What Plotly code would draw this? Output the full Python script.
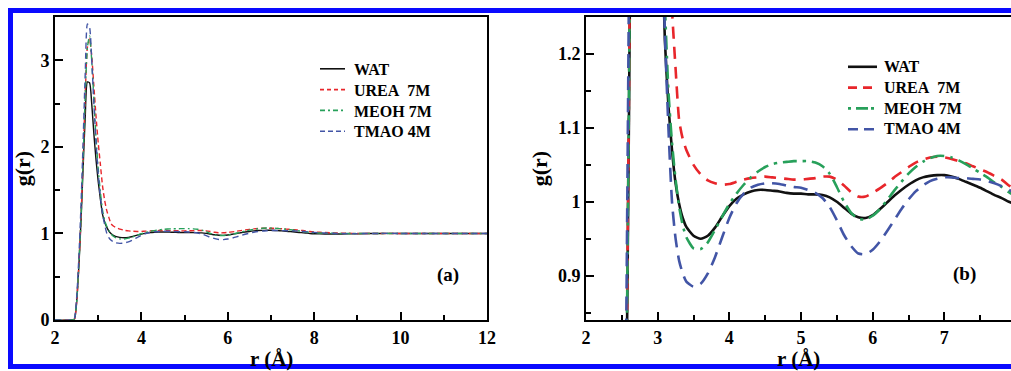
import plotly.graph_objects as go

# ---------------- data ----------------
r = [2.0, 2.4,
     2.45, 2.5, 2.55, 2.6, 2.65, 2.7, 2.75, 2.8, 2.85, 2.9, 2.95, 3.0, 3.05, 3.1, 3.15, 3.2, 3.25, 3.3, 3.35, 3.4,
     3.5, 3.6, 3.7, 3.8, 3.9, 4.0, 4.1, 4.2, 4.3, 4.4, 4.5, 4.6, 4.7, 4.8, 4.9, 5.0, 5.1, 5.2, 5.3, 5.4, 5.5,
     5.6, 5.7, 5.8, 5.9, 6.0, 6.1, 6.2, 6.3, 6.4, 6.5, 6.6, 6.7, 6.8, 6.9, 7.0, 7.1, 7.2, 7.3, 7.4, 7.5, 7.6,
     7.7, 7.8, 7.9, 8.0,
     8.25, 8.5, 8.75, 9.0, 9.5, 10.0, 10.5, 11.0, 11.5, 12.0]

g_wat = [0, 0,
         0.01, 0.2, 0.6, 1.12, 1.75, 2.35, 2.75, 2.74, 2.5, 2.15, 1.85, 1.6, 1.4, 1.22, 1.13, 1.07, 1.025, 0.997, 0.978, 0.966,
         0.954, 0.95, 0.954, 0.965, 0.98, 0.994, 1.004, 1.01, 1.014, 1.016, 1.016, 1.015, 1.014, 1.012, 1.011, 1.011, 1.01, 1.01, 1.009, 1.006, 1.0,
         0.992, 0.984, 0.979, 0.978, 0.982, 0.99, 0.999, 1.008, 1.016, 1.023, 1.029, 1.033, 1.035, 1.036, 1.036, 1.034, 1.031, 1.027, 1.023, 1.019, 1.014,
         1.009, 1.005, 1.0, 0.997,
         0.994, 0.993, 0.995, 0.997, 1.0, 1.0, 1.0, 1.0, 1.0, 1.0]

g_urea = [0, 0,
          0.01, 0.2, 0.62, 1.15, 1.85, 2.6, 3.15, 3.25, 3.05, 2.7, 2.35, 2.05, 1.8, 1.55, 1.38, 1.26, 1.18, 1.11, 1.085, 1.07,
          1.05, 1.037, 1.029, 1.025, 1.023, 1.024, 1.027, 1.03, 1.032, 1.033, 1.034, 1.033, 1.032, 1.031, 1.03, 1.03, 1.031, 1.032, 1.034, 1.034, 1.03,
          1.022, 1.013, 1.007, 1.007, 1.012, 1.018, 1.025, 1.033, 1.04, 1.047, 1.053, 1.057, 1.06, 1.061, 1.06, 1.058, 1.055, 1.052, 1.048, 1.044, 1.04,
          1.035, 1.03, 1.022, 1.017,
          1.01, 1.005, 1.002, 1.0, 1.0, 1.0, 1.0, 1.0, 1.0, 1.0]

g_meoh = [0, 0,
          0.01, 0.2, 0.62, 1.15, 1.85, 2.6, 3.15, 3.28, 3.0, 2.55, 2.1, 1.75, 1.48, 1.27, 1.15, 1.08, 1.03, 0.993, 0.968, 0.952,
          0.937, 0.936, 0.945, 0.962, 0.98, 0.997, 1.011, 1.023, 1.033, 1.041, 1.047, 1.051, 1.053, 1.054, 1.055, 1.055, 1.055, 1.053, 1.048, 1.038, 1.02,
          1.0, 0.985, 0.977, 0.976, 0.981, 0.99, 1.002, 1.015, 1.027, 1.038, 1.047, 1.054, 1.059, 1.062, 1.062, 1.06, 1.056, 1.051, 1.045, 1.039, 1.033,
          1.026, 1.02, 1.013, 1.008,
          1.003, 1.0, 1.0, 1.0, 1.0, 1.0, 1.0, 1.0, 1.0, 1.0]

g_tmao = [0, 0,
          0.02, 0.25, 0.7, 1.3, 2.05, 2.85, 3.42, 3.38, 3.0, 2.5, 2.05, 1.7, 1.42, 1.23, 1.1, 1.0, 0.95, 0.92, 0.903, 0.892,
          0.885, 0.889, 0.903, 0.925, 0.952, 0.978, 0.998, 1.011, 1.019, 1.023, 1.025, 1.025, 1.024, 1.022, 1.02, 1.019, 1.016, 1.012, 1.005, 0.993, 0.975,
          0.955, 0.94, 0.93, 0.929, 0.935, 0.946, 0.96, 0.975, 0.99, 1.003, 1.014, 1.022, 1.028, 1.031, 1.033, 1.033, 1.032, 1.032, 1.031, 1.03, 1.028,
          1.025, 1.021, 1.016, 1.012,
          1.005, 1.0, 0.998, 0.998, 1.0, 1.0, 1.0, 1.0, 1.0, 1.0]

names = ["WAT", "UREA\u00a0\u00a07M", "MEOH 7M", "TMAO 4M"]
series = [g_wat, g_urea, g_meoh, g_tmao]
for s in series:
    assert len(s) == len(r), len(s)

colors = ["#111111", "#e8262b", "#27a05a", "#4255a6"]
dash_a = ["solid", "5px,3px", "6px,3px,2px,3px", "6px,4px"]
dash_b = ["solid", "12px,8px", "14px,6px,3px,6px", "14px,8px"]
width_a = 1.4
width_b = 2.6

W, H = 1011, 371
def px(x):
    return x / W
def py(y):
    return 1 - y / H

FONT = "Liberation Serif, Times New Roman, serif"

fig = go.Figure()
for name, s, c, da, db in zip(names, series, colors, dash_a, dash_b):
    fig.add_trace(go.Scatter(x=r, y=s, mode="lines", name=name, showlegend=False,
                             line=dict(color=c, width=width_a, dash=da, shape="spline", smoothing=0.6),
                             xaxis="x", yaxis="y"))
    fig.add_trace(go.Scatter(x=r, y=s, mode="lines", name=name, showlegend=False,
                             line=dict(color=c, width=width_b, dash=db, shape="spline", smoothing=0.6),
                             xaxis="x2", yaxis="y2"))

tickfont = dict(family=FONT, size=18, color="black")
titlefont = dict(family=FONT, size=22, color="black")
common = dict(showline=True, linecolor="black", linewidth=2, mirror=True, ticks="inside",
              ticklen=8, tickwidth=1.5, tickcolor="black", showgrid=False, zeroline=False,
              tickfont=tickfont, automargin=False)

XA = [px(55), px(487)]
XB = [px(586), 1.0]

fig.update_layout(
    width=W, height=H, margin=dict(l=0, r=0, t=0, b=0),
    paper_bgcolor="white", plot_bgcolor="white",
    xaxis=dict(domain=XA, range=[2, 12], dtick=2, tick0=2,
               minor=dict(dtick=1, ticks="inside", ticklen=5, tickcolor="black", tickwidth=1.5),
               anchor="y", **common),
    yaxis=dict(domain=[py(320), py(17)], range=[0, 3.5], dtick=1, tick0=0,
               minor=dict(dtick=0.5, ticks="inside", ticklen=5, tickcolor="black", tickwidth=1.5),
               title=dict(text="<b>g(r)</b>", font=titlefont, standoff=4), anchor="x", **common),
    xaxis2=dict(domain=XB, range=[2, 7.93], dtick=1, tick0=2,
                minor=dict(dtick=0.5, ticks="inside", ticklen=5, tickcolor="black", tickwidth=1.5),
                anchor="y2", **common),
    yaxis2=dict(domain=[py(320), py(17)], range=[0.84, 1.25], dtick=0.1, tick0=0.9,
                minor=dict(dtick=0.05, ticks="inside", ticklen=5, tickcolor="black", tickwidth=1.5),
                title=dict(text="<b>g(r)</b>", font=titlefont, standoff=4), anchor="x2", **common),
)
fig.update_xaxes(tickprefix="<b>", ticksuffix="</b>")
fig.update_yaxes(tickprefix="<b>", ticksuffix="</b>")

shapes = []
annotations = []

# x-axis titles (placed as text under each panel)
for dom in (XA, XB):
    annotations.append(dict(xref="paper", yref="paper", x=(dom[0] + dom[1]) / 2, y=py(372),
                            xanchor="center", yanchor="bottom", showarrow=False, borderpad=0,
                            text="<b>r (Å)</b>", font=dict(family=FONT, size=21, color="black")))

# manual legends: one multi-line text block per panel, with line samples beside each row
LEG_FS = 16
ROW = LEG_FS * 1.3
leg_a = dict(x0=320, x1=345, xt=353, ymid=100, dash=["solid", "4px,3px", "5px,3px,2px,3px", "5px,3px"], w=1.6)
leg_b = dict(x0=848, x1=877, xt=883, ymid=98, dash=["solid", "9px,6px", "3px,5px,12px,3px", "10px,6px"], w=2.6)
for leg in (leg_a, leg_b):
    for i, (c, d) in enumerate(zip(colors, leg["dash"])):
        yy = leg["ymid"] + (i - 1.5) * ROW
        shapes.append(dict(type="line", xref="paper", yref="paper", x0=px(leg["x0"]), x1=px(leg["x1"]),
                           y0=py(yy), y1=py(yy), line=dict(color=c, width=leg["w"], dash=d)))
    annotations.append(dict(xref="paper", yref="paper", x=px(leg["xt"]), y=py(leg["ymid"]), xanchor="left",
                            yanchor="middle", align="left", showarrow=False, borderpad=0,
                            text="<br>".join("<b>" + n + "</b>" for n in names),
                            font=dict(family=FONT, size=LEG_FS, color="black")))

annotations.append(dict(xref="paper", yref="paper", x=px(448), y=py(288), showarrow=False,
                        text="<b>(a)</b>", font=dict(family=FONT, size=19, color="black")))
annotations.append(dict(xref="paper", yref="paper", x=px(978), y=py(287), showarrow=False,
                        text="<b>(b)</b>", font=dict(family=FONT, size=19, color="black")))

# blue outer frame
shapes.append(dict(type="rect", xref="paper", yref="paper", x0=px(10.5), x1=1.02, y0=py(366.5), y1=py(10.5),
                   line=dict(color="#0a0aff", width=5), fillcolor="rgba(0,0,0,0)"))

fig.update_layout(shapes=shapes, annotations=annotations)
fig.write_html("out.html")
